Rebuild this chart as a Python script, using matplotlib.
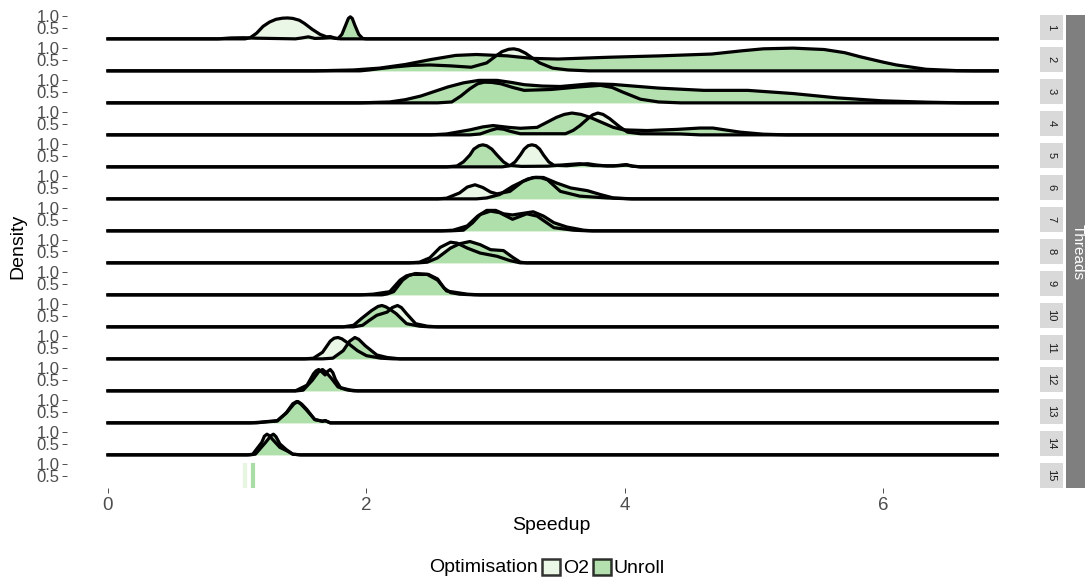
import matplotlib
matplotlib.use("Agg")
import matplotlib.pyplot as plt
from matplotlib.patches import Rectangle, Patch

plt.rcParams['font.family'] = ['Liberation Sans', 'DejaVu Sans']

# speedup range covered by every density (ggplot computes over the full x range)
speed_lo = 0.0
speed_hi = 6.88

threads = list(range(1, 16))
groups = ['O2', 'Unroll']
colours = {'O2': '#e5f5e0', 'Unroll': '#a1d99b'}

# scaled density curves: (speedup, density)
t1_o2 = [(1.06, 0), (1.10, 0.05), (1.15, 0.25), (1.20, 0.55), (1.25, 0.74), (1.30, 0.86), (1.35, 0.91),
         (1.39, 0.92), (1.43, 0.90), (1.48, 0.82), (1.52, 0.68), (1.58, 0.42), (1.64, 0.20), (1.69, 0.09),
         (1.72, 0.10), (1.76, 0.03), (1.80, 0)]
t1_unroll = [(0.85, 0), (0.95, 0.04), (1.05, 0.05), (1.15, 0.03), (1.45, 0.0), (1.50, 0.04), (1.55, 0.09),
             (1.60, 0.02), (1.66, 0.03), (1.72, 0.05), (1.78, 0.01), (1.81, 0.20), (1.84, 0.62), (1.86, 0.90),
             (1.875, 0.97), (1.89, 0.90), (1.91, 0.60), (1.94, 0.20), (1.97, 0.02), (2.00, 0)]
t2_o2 = [(1.95, 0), (2.02, 0.04), (2.21, 0.17), (2.35, 0.24), (2.49, 0.26), (2.65, 0.22), (2.81, 0.16),
         (2.93, 0.35), (3.00, 0.65), (3.05, 0.85), (3.10, 0.95), (3.14, 0.97), (3.18, 0.92), (3.23, 0.78),
         (3.28, 0.58), (3.34, 0.35), (3.44, 0.12), (3.56, 0.04), (3.72, 0)]
t2_unroll = [(1.60, 0), (1.90, 0.04), (2.10, 0.12), (2.30, 0.28), (2.50, 0.50), (2.69, 0.68), (2.85, 0.72),
             (3.09, 0.66), (3.28, 0.55), (3.48, 0.52), (3.88, 0.60), (4.27, 0.66), (4.67, 0.74), (4.90, 0.88),
             (5.07, 0.97), (5.30, 1.00), (5.54, 0.94), (5.70, 0.80), (5.82, 0.62), (6.00, 0.38), (6.10, 0.26),
             (6.33, 0.07), (6.57, 0.01), (6.70, 0)]
t3_o2 = [(2.55, 0), (2.66, 0.04), (2.73, 0.30), (2.80, 0.62), (2.86, 0.84), (2.91, 0.91), (2.97, 0.90),
         (3.04, 0.84), (3.13, 0.68), (3.22, 0.55), (3.43, 0.59), (3.64, 0.70), (3.81, 0.77), (3.90, 0.68),
         (3.98, 0.48), (4.12, 0.16), (4.26, 0.04), (4.43, 0)]
t3_unroll = [(1.95, 0), (2.18, 0.04), (2.30, 0.14), (2.42, 0.30), (2.63, 0.70), (2.75, 0.88), (2.87, 0.99),
             (3.01, 0.99), (3.12, 0.90), (3.22, 0.80), (3.36, 0.74), (3.50, 0.72), (3.62, 0.78), (3.74, 0.84),
             (3.91, 0.81), (4.26, 0.65), (4.61, 0.55), (4.95, 0.55), (5.30, 0.41), (5.64, 0.22), (5.99, 0.09),
             (6.34, 0.03), (6.61, 0)]
t4_o2 = [(2.80, 0), (2.88, 0.04), (2.96, 0.20), (3.01, 0.28), (3.06, 0.25), (3.11, 0.16), (3.19, 0.05),
         (3.54, 0.05), (3.60, 0.20), (3.65, 0.40), (3.71, 0.70), (3.75, 0.88), (3.79, 0.96), (3.83, 0.90),
         (3.88, 0.72), (3.96, 0.35), (4.02, 0.12), (4.12, 0.05), (4.43, 0.04), (4.58, 0)]
t4_unroll = [(2.50, 0), (2.62, 0.04), (2.80, 0.22), (2.90, 0.35), (2.98, 0.41), (3.10, 0.33), (3.19, 0.29),
             (3.32, 0.33), (3.47, 0.77), (3.53, 0.90), (3.59, 0.96), (3.66, 0.90), (3.73, 0.77), (3.91, 0.33),
             (3.99, 0.22), (4.17, 0.19), (4.40, 0.24), (4.58, 0.30), (4.68, 0.30), (4.89, 0.12), (5.07, 0.03),
             (5.25, 0)]
t5_o2 = [(3.05, 0), (3.11, 0.05), (3.15, 0.22), (3.19, 0.52), (3.22, 0.78), (3.25, 0.93), (3.28, 0.97),
         (3.31, 0.93), (3.34, 0.78), (3.37, 0.52), (3.41, 0.22), (3.45, 0.07), (3.55, 0.05), (3.64, 0.10),
         (3.71, 0.14), (3.78, 0.08), (3.86, 0.04), (3.95, 0.05), (4.01, 0.08), (4.06, 0.03), (4.12, 0)]
t5_unroll = [(2.62, 0), (2.70, 0.04), (2.75, 0.22), (2.80, 0.52), (2.83, 0.78), (2.87, 0.93), (2.90, 0.97),
             (2.93, 0.93), (2.97, 0.78), (3.01, 0.52), (3.06, 0.22), (3.10, 0.07), (3.20, 0.02), (3.40, 0.03),
             (3.55, 0.10), (3.65, 0.14), (3.75, 0.06), (3.91, 0.04), (4.01, 0.10), (4.06, 0.03), (4.12, 0)]
t6_o2 = [(2.55, 0), (2.62, 0.03), (2.72, 0.26), (2.78, 0.52), (2.84, 0.62), (2.90, 0.50), (2.96, 0.30),
         (3.01, 0.22), (3.11, 0.33), (3.21, 0.77), (3.29, 0.94), (3.35, 0.93), (3.40, 0.84), (3.50, 0.33),
         (3.65, 0.12), (3.86, 0.04), (4.04, 0)]
t6_unroll = [(2.85, 0), (2.93, 0.04), (3.03, 0.19), (3.13, 0.55), (3.25, 0.88), (3.31, 0.95), (3.37, 0.94),
             (3.47, 0.70), (3.58, 0.48), (3.71, 0.36), (3.81, 0.19), (3.91, 0.04), (4.06, 0)]
t7_o2 = [(2.65, 0), (2.75, 0.03), (2.82, 0.35), (2.88, 0.72), (2.96, 0.87), (3.03, 0.80), (3.13, 0.51),
         (3.24, 0.75), (3.32, 0.65), (3.45, 0.14), (3.60, 0.03), (3.71, 0)]
t7_unroll = [(2.58, 0), (2.67, 0.03), (2.78, 0.22), (2.86, 0.65), (2.93, 0.90), (3.00, 0.90), (3.06, 0.75),
             (3.13, 0.70), (3.21, 0.77), (3.29, 0.84), (3.37, 0.65), (3.45, 0.36), (3.55, 0.17), (3.68, 0.03),
             (3.75, 0)]
t8_o2 = [(2.33, 0), (2.41, 0.03), (2.49, 0.22), (2.57, 0.68), (2.65, 0.91), (2.70, 0.87), (2.78, 0.65),
         (2.88, 0.43), (3.01, 0.29), (3.11, 0.10), (3.19, 0)]
t8_unroll = [(2.40, 0), (2.47, 0.03), (2.55, 0.22), (2.65, 0.65), (2.72, 0.84), (2.80, 0.94), (2.88, 0.80),
             (2.96, 0.58), (3.06, 0.54), (3.13, 0.25), (3.19, 0.03), (3.24, 0)]
t9_o2 = [(2.12, 0), (2.16, 0.04), (2.21, 0.14), (2.28, 0.65), (2.33, 0.86), (2.38, 0.94), (2.48, 0.90),
         (2.55, 0.70), (2.60, 0.30), (2.65, 0.10), (2.72, 0.03), (2.83, 0)]
t9_unroll = [(1.95, 0), (2.05, 0.03), (2.18, 0.14), (2.26, 0.65), (2.31, 0.84), (2.36, 0.90), (2.47, 0.90),
             (2.55, 0.65), (2.62, 0.17), (2.78, 0.03), (2.88, 0)]
t10_o2 = [(1.90, 0), (1.97, 0.07), (2.02, 0.28), (2.08, 0.51), (2.16, 0.65), (2.20, 0.85), (2.24, 0.94),
          (2.27, 0.85), (2.31, 0.58), (2.38, 0.14), (2.47, 0.03), (2.55, 0)]
t10_unroll = [(1.82, 0), (1.90, 0.07), (1.96, 0.36), (2.04, 0.72), (2.09, 0.90), (2.12, 0.94), (2.15, 0.88),
              (2.19, 0.74), (2.23, 0.58), (2.31, 0.14), (2.41, 0.03), (2.49, 0)]
t11_o2 = [(1.52, 0), (1.59, 0.03), (1.66, 0.29), (1.72, 0.78), (1.75, 0.91), (1.78, 0.94), (1.81, 0.88),
          (1.85, 0.72), (1.93, 0.36), (2.00, 0.14), (2.11, 0.03), (2.21, 0)]
t11_unroll = [(1.66, 0), (1.74, 0.03), (1.82, 0.36), (1.87, 0.78), (1.91, 0.94), (1.94, 0.86), (1.99, 0.58),
              (2.08, 0.17), (2.16, 0.06), (2.26, 0)]
t12_o2 = [(1.45, 0), (1.54, 0.25), (1.59, 0.75), (1.61, 0.88), (1.63, 0.94), (1.65, 0.86), (1.68, 0.70),
          (1.70, 0.86), (1.72, 0.94), (1.74, 0.80), (1.76, 0.50), (1.80, 0.13), (1.85, 0.04), (1.90, 0)]
t12_unroll = [(1.46, 0), (1.51, 0.03), (1.58, 0.46), (1.63, 0.84), (1.66, 0.94), (1.69, 0.80), (1.73, 0.54),
              (1.78, 0.17), (1.87, 0.04), (1.93, 0)]
t13_o2 = [(1.15, 0), (1.20, 0.03), (1.31, 0.08), (1.38, 0.45), (1.43, 0.84), (1.46, 0.94), (1.49, 0.84),
          (1.53, 0.60), (1.60, 0.15), (1.66, 0.07), (1.68, 0.10), (1.72, 0)]
t13_unroll = [(1.10, 0), (1.18, 0.03), (1.31, 0.10), (1.38, 0.43), (1.44, 0.84), (1.47, 0.94), (1.50, 0.82),
              (1.54, 0.58), (1.60, 0.14), (1.66, 0.07), (1.68, 0.10), (1.72, 0)]
t14_o2 = [(1.08, 0), (1.12, 0.03), (1.19, 0.55), (1.21, 0.82), (1.23, 0.91), (1.25, 0.84), (1.27, 0.70),
          (1.33, 0.33), (1.38, 0.19), (1.43, 0.03), (1.49, 0)]
t14_unroll = [(1.10, 0), (1.14, 0.03), (1.22, 0.55), (1.26, 0.84), (1.28, 0.91), (1.30, 0.80), (1.33, 0.48),
              (1.38, 0.23), (1.43, 0.03), (1.49, 0)]
# 15 threads: every run gave the same speedup, so only a spike is left
t15_o2 = 1.06
t15_unroll = 1.12

o2_curves = [t1_o2, t2_o2, t3_o2, t4_o2, t5_o2, t6_o2, t7_o2, t8_o2, t9_o2, t10_o2, t11_o2, t12_o2, t13_o2, t14_o2]
unroll_curves = [t1_unroll, t2_unroll, t3_unroll, t4_unroll, t5_unroll, t6_unroll, t7_unroll, t8_unroll,
                 t9_unroll, t10_unroll, t11_unroll, t12_unroll, t13_unroll, t14_unroll]

W, H = 1085, 582
fig = plt.figure(figsize=(W / 100, H / 100), dpi=100)


def fx(px):
    return px / W


def fy(py):
    return 1 - py / H


left, right = 67, 1036
top0, step, ph = 15, 32, 25
x_min, x_max = -0.317, 7.18

for i, t in enumerate(threads):
    top = top0 + step * i
    ax = fig.add_axes([fx(left), fy(top + ph), fx(right) - fx(left), ph / H])
    ax.set_xlim(x_min, x_max)
    ax.set_ylim(-0.05, 1.05)
    for s in ax.spines.values():
        s.set_visible(False)
    ax.set_yticks([0.5, 1.0])
    ax.set_yticklabels(['0.5', '1.0'])
    ax.tick_params(axis='y', labelsize=12, labelcolor='#4d4d4d', color='#333333', length=3.5, width=0.6, pad=2)

    if t < 15:
        for g, curve in zip(groups, [o2_curves[i], unroll_curves[i]]):
            xs = [speed_lo] + [p[0] for p in curve] + [speed_hi]
            ys = [0] + [p[1] for p in curve] + [0]
            ax.fill_between(xs, 0, ys, color=colours[g], alpha=0.8, lw=0)
            ax.plot(xs, ys, color='black', lw=2.3, solid_joinstyle='round', clip_on=False)
    else:
        ax.axvline(t15_o2, color=colours['O2'], alpha=0.9, lw=3)
        ax.axvline(t15_unroll, color=colours['Unroll'], alpha=0.9, lw=3)

    if t == 15:
        ax.set_xticks([0, 2, 4, 6])
        ax.tick_params(axis='x', labelsize=13.5, labelcolor='#4d4d4d', color='#333333', length=3.5, width=0.6, pad=3)
    else:
        ax.set_xticks([])

    # small strip with the thread count
    fig.add_artist(Rectangle((fx(1040), fy(top + ph)), fx(1063) - fx(1040), ph / H,
                             transform=fig.transFigure, facecolor='#d9d9d9', edgecolor='none'))
    fig.text(fx(1051.5), fy(top + ph / 2), str(t), rotation=-90, ha='center', va='center',
             fontsize=8, color='#1a1a1a')

# outer strip
bottom = top0 + step * 14 + ph
fig.add_artist(Rectangle((fx(1066), fy(bottom)), fx(1090) - fx(1066), (bottom - top0) / H,
                         transform=fig.transFigure, facecolor='#7f7f7f', edgecolor='none'))
fig.text(fx(1078), fy((top0 + bottom) / 2), 'Threads', rotation=-90, ha='center', va='center',
         fontsize=11, color='white')

fig.text(fx(551), fy(525), 'Speedup', ha='center', va='center', fontsize=14)
fig.text(fx(18), fy(246), 'Density', rotation=90, ha='center', va='center', fontsize=14)

# legend along the bottom
fig.text(fx(538), fy(568), 'Optimisation', ha='right', va='center', fontsize=14)
handles = [Patch(facecolor=colours[g], alpha=0.8, edgecolor='black', lw=1.8) for g in groups]
fig.legend(handles, groups, loc='center left', bbox_to_anchor=(fx(542), fy(568)), ncol=2, frameon=False,
           fontsize=14, handlelength=0.93, handleheight=0.93, handletextpad=0.15, columnspacing=0.2,
           borderpad=0, borderaxespad=0)

fig.savefig('out.png', dpi=100)
